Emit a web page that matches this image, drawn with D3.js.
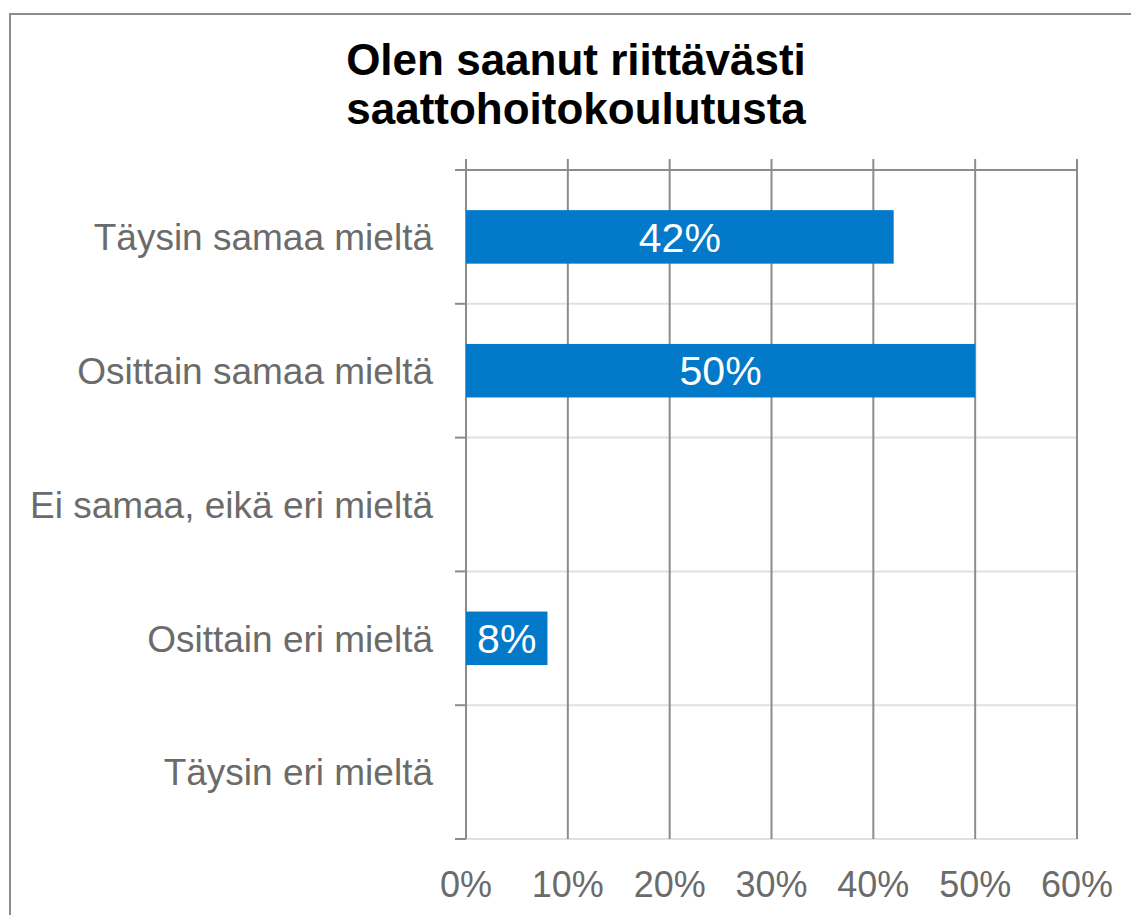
<!DOCTYPE html>
<html>
<head>
<meta charset="utf-8">
<script src="https://cdn.jsdelivr.net/npm/d3@7"></script>
<style>
  html, body { margin: 0; padding: 0; background: #fff; }
  svg { display: block; }
  text { font-family: "Liberation Sans", Arial, sans-serif; }
</style>
</head>
<body>
<svg id="chart" width="1131" height="915"></svg>
<script>
const titleLines = ["Olen saanut riittävästi", "saattohoitokoulutusta"];
const categories = ["Täysin samaa mieltä", "Osittain samaa mieltä", "Ei samaa, eikä eri mieltä", "Osittain eri mieltä", "Täysin eri mieltä"];
const values = [0.42, 0.50, 0, 0.08, 0];
const tickValues = [0, 0.1, 0.2, 0.3, 0.4, 0.5, 0.6];

const svg = d3.select("#chart");
const plotLeft = 466, plotRight = 1077, plotTop = 170, plotBottom = 839;

// outer border
svg.append("rect").attr("x", 10).attr("y", 14).attr("width", 1200).attr("height", 1000)
  .attr("fill", "none").attr("stroke", "#8c8c8c").attr("stroke-width", 2);

// title
svg.append("text").attr("x", 576).attr("y", 75).attr("text-anchor", "middle")
  .attr("font-size", 44).attr("font-weight", "bold").attr("fill", "#000")
  .selectAll("tspan").data(titleLines).join("tspan")
  .attr("x", 576).attr("dy", (d, i) => i === 0 ? 0 : 49).text(d => d);

const x = d3.scaleLinear().domain([0, 0.6]).range([plotLeft, plotRight]);
const y = d3.scaleBand().domain(categories).range([plotTop, plotBottom]).paddingInner(0.6).paddingOuter(0.3);
const step = y.step();

// light separators between categories
const bounds = d3.range(1, categories.length + 1).map(i => plotTop + i * step);
svg.append("g").selectAll("line").data(bounds).join("line")
  .attr("x1", plotLeft).attr("x2", plotRight).attr("y1", d => d).attr("y2", d => d)
  .attr("stroke", "#e0e0e0").attr("stroke-width", 2);

// vertical gridlines
svg.append("g").selectAll("line").data(tickValues).join("line")
  .attr("x1", d => x(d)).attr("x2", d => x(d)).attr("y1", 159).attr("y2", plotBottom)
  .attr("stroke", "#8c8c8c").attr("stroke-width", 2);

// top line
svg.append("line").attr("x1", 455).attr("x2", plotRight).attr("y1", plotTop).attr("y2", plotTop)
  .attr("stroke", "#8c8c8c").attr("stroke-width", 2);

// left tick marks
svg.append("g").selectAll("line").data([plotTop].concat(bounds)).join("line")
  .attr("x1", 455).attr("x2", plotLeft).attr("y1", d => d).attr("y2", d => d)
  .attr("stroke", "#8c8c8c").attr("stroke-width", 2);

// bars
const data = categories.map((c, i) => ({ c, v: values[i] }));
svg.append("g").selectAll("rect").data(data.filter(d => d.v > 0)).join("rect")
  .attr("x", x(0)).attr("y", d => y(d.c)).attr("width", d => x(d.v) - x(0)).attr("height", y.bandwidth())
  .attr("fill", "#0379c9");

// bar labels
svg.append("g").selectAll("text").data(data.filter(d => d.v > 0)).join("text")
  .attr("x", d => (x(0) + x(d.v)) / 2).attr("y", d => y(d.c) + y.bandwidth() / 2)
  .attr("dy", "0.36em").attr("text-anchor", "middle")
  .attr("font-size", 41).attr("fill", "#fff")
  .text(d => Math.round(d.v * 100) + "%");

// category labels
svg.append("g").selectAll("text").data(categories).join("text")
  .attr("x", 433).attr("y", d => y(d) + y.bandwidth() / 2)
  .attr("dy", "0.36em").attr("text-anchor", "end")
  .attr("font-size", 37).attr("fill", "#6b6b6b").text(d => d);

// x tick labels
svg.append("g").selectAll("text").data(tickValues).join("text")
  .attr("x", d => x(d)).attr("y", 897).attr("text-anchor", "middle")
  .attr("font-size", 36).attr("fill", "#6b6b6b")
  .text(d => d3.format(".0%")(d));
</script>
</body>
</html>
